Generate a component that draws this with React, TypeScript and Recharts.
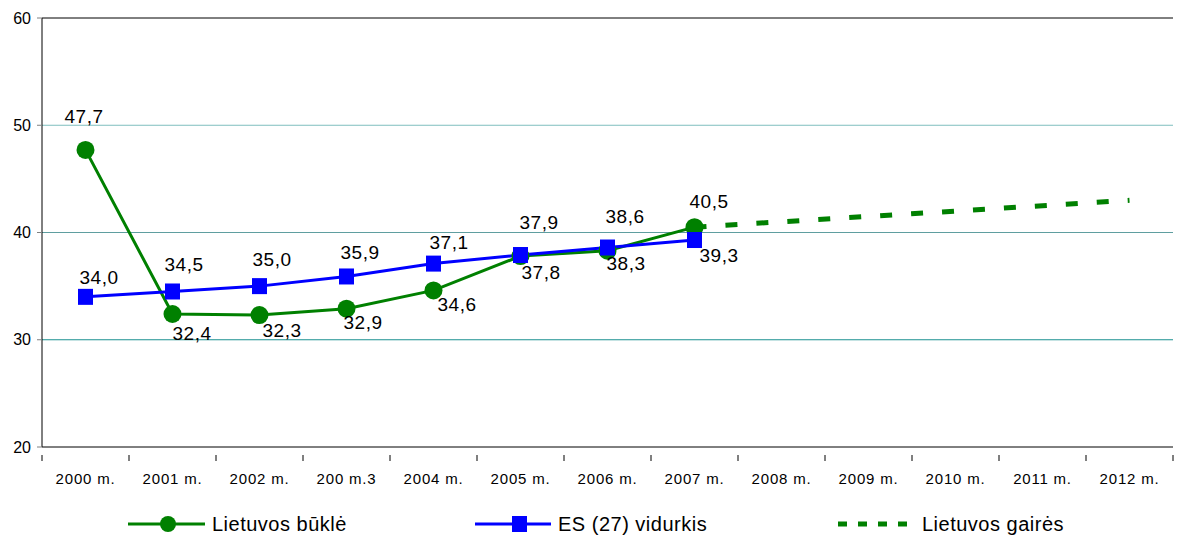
import React from 'react';
import { LineChart, Line, XAxis, YAxis, ReferenceLine } from 'recharts';

const categories = ['2000 m.', '2001 m.', '2002 m.', '200 m.3', '2004 m.', '2005 m.', '2006 m.', '2007 m.', '2008 m.', '2009 m.', '2010 m.', '2011 m.', '2012 m.'];
const lietuvosBukle = [47.7, 32.4, 32.3, 32.9, 34.6, 37.8, 38.3, 40.5, null, null, null, null, null];
const esVidurkis = [34.0, 34.5, 35.0, 35.9, 37.1, 37.9, 38.6, 39.3, null, null, null, null, null];
const lietuvosGaires = [null, null, null, null, null, null, null, 40.5, 41.0, 41.5, 42.0, 42.5, 43.0];
const yTicks = [20, 30, 40, 50, 60];

const seriesNames = ['Lietuvos būklė', 'ES (27) vidurkis', 'Lietuvos gairės'];

// label placement (dx, dy of text's left/center relative to the point)
const ltLabelOffsets: [number, number][] = [[-21, -33], [0, 19], [3, 15], [-3, 14], [4, 14], [1, 16], [-1, 13], [-5, -26]];
const esLabelOffsets: [number, number][] = [[-6, -19], [-8, -27], [-7, -27], [-6, -24], [-4, -21], [-1, -33], [-2, -31], [5, 15]];

const data = categories.map((cat, i) => ({
  cat,
  lt: lietuvosBukle[i],
  es: esVidurkis[i],
  gaires: lietuvosGaires[i],
}));

const W = 1177;
const H = 540;
const M = { top: 18, right: 4, left: 0, bottom: 63 };
const Y_W = 42;
const PLOT_W = W - M.right - Y_W;
const HALF_BAND = PLOT_W / categories.length / 2;

const GREEN = '#008000';
const BLUE = '#0000ff';
const FONT = '"Liberation Sans", Arial, sans-serif';

const fmt = (v: number) => v.toFixed(1).replace('.', ',');

const makeLabel = (offsets: [number, number][]) => (props: any) => {
  const { x, y, index, value } = props;
  if (value == null || x == null || y == null) return null;
  const off = offsets[index] || [0, -20];
  return (
    <text
      x={x + off[0]}
      y={y + off[1]}
      textAnchor="start"
      dominantBaseline="central"
      fontSize={19}
      letterSpacing={0.5}
      fontFamily={FONT}
      fill="#000"
    >
      {fmt(value)}
    </text>
  );
};

const SquareDot = (props: any) => {
  const { cx, cy, value } = props;
  if (value == null || cx == null || cy == null) return null;
  return <rect x={cx - 7.5} y={cy - 8} width={15} height={16} fill={BLUE} />;
};

const CircleDot = (props: any) => {
  const { cx, cy, value } = props;
  if (value == null || cx == null || cy == null) return null;
  return <circle cx={cx} cy={cy} r={9} fill={GREEN} />;
};

const XTick = (props: any) => {
  const { x, y, payload, index } = props;
  return (
    <g>
      {index === 0 && <line x1={x - HALF_BAND} x2={x - HALF_BAND} y1={y} y2={y + 6} stroke="#000" />}
      <line x1={x + HALF_BAND} x2={x + HALF_BAND} y1={y} y2={y + 6} stroke="#000" />
      <text
        x={x}
        y={y + 23}
        textAnchor="middle"
        dominantBaseline="central"
        fontSize={15}
        letterSpacing={0.8}
        fontFamily={FONT}
        fill="#000"
      >
        {payload.value}
      </text>
    </g>
  );
};

const LegendBox = () => {
  const items = [
    { left: 128, textLeft: 212, kind: 'circle' },
    { left: 475, textLeft: 558, kind: 'square' },
    { left: 838, textLeft: 922, kind: 'dash' },
  ];
  return (
    <div style={{ position: 'absolute', left: 0, top: 510, width: W, height: 28 }}>
      {items.map((it, i) => (
        <div key={i}>
          <svg style={{ position: 'absolute', left: it.left, top: 0 }} width={80} height={28}>
            {it.kind === 'circle' && (
              <g>
                <line x1={0} x2={77} y1={14} y2={14} stroke={GREEN} strokeWidth={3} />
                <circle cx={40} cy={14} r={8} fill={GREEN} />
              </g>
            )}
            {it.kind === 'square' && (
              <g>
                <line x1={0} x2={76} y1={14} y2={14} stroke={BLUE} strokeWidth={3} />
                <rect x={37} y={6} width={15} height={16} fill={BLUE} />
              </g>
            )}
            {it.kind === 'dash' && (
              <line x1={0} x2={72} y1={14} y2={14} stroke={GREEN} strokeWidth={5} strokeDasharray="9 11" />
            )}
          </svg>
          <div
            style={{
              position: 'absolute',
              left: it.textLeft,
              top: 0,
              height: 28,
              lineHeight: '28px',
              fontSize: 20,
              letterSpacing: 0.5,
              fontFamily: FONT,
              color: '#000',
              whiteSpace: 'nowrap',
            }}
          >
            {seriesNames[i]}
          </div>
        </div>
      ))}
    </div>
  );
};

export default function App() {
  return (
    <div style={{ position: 'absolute', left: 0, top: 0, width: W, height: H, background: '#fff' }}>
      <LineChart width={W} height={H} data={data} margin={M}>
        <XAxis
          dataKey="cat"
          interval={0}
          tickLine={false}
          axisLine={{ stroke: '#000' }}
          tick={<XTick />}
          height={30}
          padding={{ left: HALF_BAND, right: HALF_BAND }}
        />
        <YAxis
          domain={[20, 60]}
          ticks={yTicks}
          width={Y_W}
          tickSize={5}
          tickMargin={6}
          tickLine={{ stroke: '#808080' }}
          axisLine={{ stroke: '#000' }}
          tick={{ fontSize: 16, fill: '#000', fontFamily: FONT }}
          allowDataOverflow
        />
        <ReferenceLine y={30} stroke="#1a9090" />
        <ReferenceLine y={40} stroke="#5f9ea0" />
        <ReferenceLine y={50} stroke="#7fbfbf" />
        <ReferenceLine y={60} stroke="#000" />
        <Line
          dataKey="lt"
          stroke={GREEN}
          strokeWidth={3}
          dot={<CircleDot />}
          activeDot={false}
          isAnimationActive={false}
          label={makeLabel(ltLabelOffsets)}
          connectNulls={false}
        />
        <Line
          dataKey="gaires"
          stroke={GREEN}
          strokeWidth={5}
          strokeDasharray="12 19"
          dot={false}
          activeDot={false}
          isAnimationActive={false}
        />
        <Line
          dataKey="es"
          stroke={BLUE}
          strokeWidth={3}
          dot={<SquareDot />}
          activeDot={false}
          isAnimationActive={false}
          label={makeLabel(esLabelOffsets)}
        />
      </LineChart>
      <LegendBox />
    </div>
  );
}
